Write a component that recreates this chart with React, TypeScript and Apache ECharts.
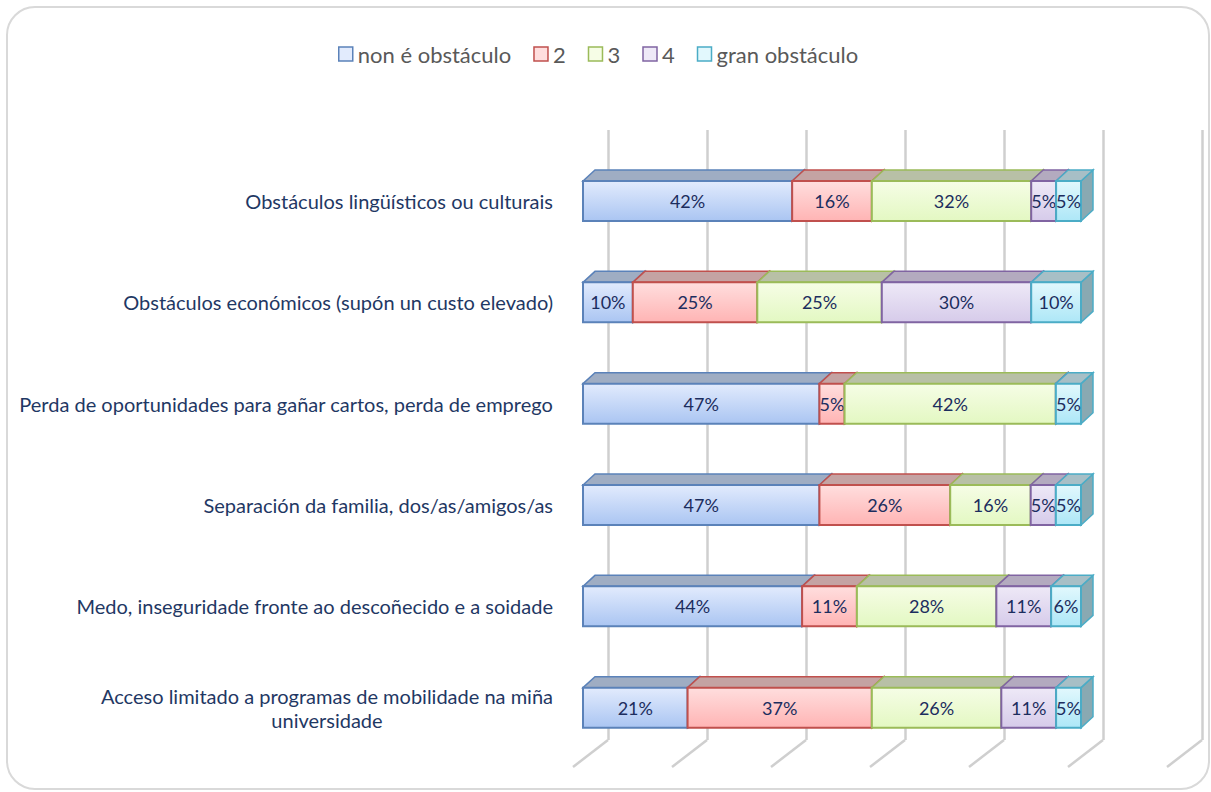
import React, { useEffect, useRef } from 'react';
import * as echarts from 'echarts';

const categories = [
  'Obstáculos lingüísticos ou culturais',
  'Obstáculos económicos (supón un custo elevado)',
  'Perda de oportunidades para gañar cartos, perda de emprego',
  'Separación da familia, dos/as/amigos/as',
  'Medo, inseguridade fronte ao descoñecido e a soidade',
  'Acceso limitado a programas de mobilidade na miña\nuniversidade',
];
const seriesNames = ['non é obstáculo', '2', '3', '4', 'gran obstáculo'];
const nonObstaculo = [42, 10, 47, 47, 44, 21];
const dous = [16, 25, 5, 26, 11, 37];
const tres = [32, 25, 42, 16, 28, 26];
const catro = [5, 30, 0, 5, 11, 11];
const granObstaculo = [5, 10, 5, 5, 6, 5];
const gridTicks = [0, 20, 40, 60, 80, 100, 120];

const palette = [
  { top: '#e2ebfd', bottom: '#aac5f2', border: '#5b82b9', face: '#9fadc3', side: '#8797ad' },
  { top: '#ffdede', bottom: '#ffb4b4', border: '#c0504d', face: '#c4a3a3', side: '#a88a8a' },
  { top: '#f6fde6', bottom: '#e3f8c2', border: '#9bbb59', face: '#b8c0a6', side: '#9ea68c' },
  { top: '#eee9f7', bottom: '#d6cbea', border: '#8064a2', face: '#b3aabf', side: '#978ea3' },
  { top: '#e2f8fd', bottom: '#ade7f7', border: '#4bacc6', face: '#a7bfc6', side: '#89a9b2' },
];

const FONT = 'Lato';
const DX = 12;
const DY = 11;

export default function App() {
  const ref = useRef<HTMLDivElement>(null);
  useEffect(() => {
    if (!ref.current) return;
    const chart = echarts.init(ref.current, null, { renderer: 'svg' });
    const values = [nonObstaculo, dous, tres, catro, granObstaculo];
    const totals = categories.map((_, i) => values.reduce((a, arr) => a + arr[i], 0));
    const cum = categories.map(() => 0);
    const series: any[] = values.map((arr, si) => {
      const data = arr.map((v, ci) => {
        const s = (cum[ci] / totals[ci]) * 100;
        cum[ci] += v;
        const e = (cum[ci] / totals[ci]) * 100;
        return [s, e, ci, v];
      });
      const pal = palette[si];
      return {
        type: 'custom',
        name: seriesNames[si],
        xAxisIndex: 0,
        yAxisIndex: 0,
        z: 5,
        itemStyle: { color: pal.bottom, borderColor: pal.border },
        data,
        renderItem: (params: any, api: any) => {
          const s = api.value(0);
          const e = api.value(1);
          const c = api.value(2);
          const v = api.value(3);
          const p0 = api.coord([s, c]);
          const p1 = api.coord([e, c]);
          const h = api.size([0, 1])[1] * 0.395;
          const x0 = p0[0];
          const x1 = p1[0];
          const y0 = p0[1] - h / 2;
          const y1 = p0[1] + h / 2;
          const children: any[] = [
            {
              type: 'polygon',
              shape: { points: [[x1, y0], [x1 + DX, y0 - DY], [x1 + DX, y1 - DY], [x1, y1]] },
              style: { fill: pal.side, stroke: pal.border, lineWidth: 1.5 },
            },
            {
              type: 'polygon',
              shape: { points: [[x0, y0], [x0 + DX, y0 - DY], [x1 + DX, y0 - DY], [x1, y0]] },
              style: { fill: pal.face, stroke: pal.border, lineWidth: 1.5 },
            },
            {
              type: 'rect',
              shape: { x: x0, y: y0, width: Math.max(0, x1 - x0), height: y1 - y0 },
              style: {
                fill: new echarts.graphic.LinearGradient(0, 0, 0, 1, [
                  { offset: 0, color: pal.top },
                  { offset: 1, color: pal.bottom },
                ]),
                stroke: pal.border,
                lineWidth: 2,
              },
            },
          ];
          if (v > 0) {
            children.push({
              type: 'text',
              style: {
                text: v + '%',
                x: (x0 + x1) / 2,
                y: (y0 + y1) / 2,
                align: 'center',
                verticalAlign: 'middle',
                fill: '#1c2d5e',
                fontSize: 18,
                fontFamily: FONT,
              },
            });
          }
          return { type: 'group', children };
        },
      };
    });

    series.unshift({
      type: 'custom',
      name: 'floor',
      xAxisIndex: 1,
      yAxisIndex: 1,
      z: 1,
      silent: true,
      data: gridTicks.map((t) => [t, 0]),
      renderItem: (params: any, api: any) => {
        const p = api.coord([api.value(0), api.value(1)]);
        return {
          type: 'polyline',
          shape: { points: [[p[0], p[1]], [p[0] - 35, p[1] + 27]] },
          style: { stroke: '#cfcfcf', lineWidth: 2.5, fill: 'none' },
        };
      },
    });

    chart.setOption({
      animation: false,
      backgroundColor: '#ffffff',
      graphic: [
        {
          type: 'rect',
          shape: { x: 7, y: 7, width: 1202, height: 782, r: 28 },
          style: { fill: 'none', stroke: '#d9d9d9', lineWidth: 2 },
          z: 0,
        },
      ],
      legend: {
        top: 38,
        left: 333,
        itemWidth: 14,
        itemHeight: 14,
        itemGap: 22,
        selectedMode: false,
        textStyle: { color: '#595959', fontSize: 22, fontFamily: FONT },
        data: seriesNames.map((n, i) => ({
          name: n,
          icon: 'rect',
          itemStyle: { color: palette[i].top, borderColor: palette[i].border, borderWidth: 1.5 },
        })),
      },
      grid: [
        { left: 583, right: 130, top: 150.35, bottom: 33.65 },
        { left: 608, right: 9, top: 130, bottom: 52 },
      ],
      xAxis: [
        {
          type: 'value',
          gridIndex: 0,
          min: 0,
          max: 100,
          show: false,
        },
        {
          type: 'value',
          gridIndex: 1,
          min: 0,
          max: 120,
          interval: 20,
          axisLine: { show: false },
          axisTick: { show: false },
          axisLabel: { show: false },
          splitLine: { show: true, lineStyle: { color: '#cfcfcf', width: 2.5 } },
        },
      ],
      yAxis: [
        {
          type: 'category',
          gridIndex: 0,
          inverse: true,
          data: categories,
          axisLine: { show: false },
          axisTick: { show: false },
          axisLabel: {
            margin: 30,
            align: 'right',
            formatter: (val: string) =>
              val
                .split('\n')
                .map((l) => '{c|' + l + '}')
                .join('\n'),
            rich: {
              c: { align: 'center', color: '#1f3864', fontSize: 20, fontFamily: FONT, lineHeight: 24 },
            },
          },
        },
        { type: 'value', gridIndex: 1, min: 0, max: 1, show: false },
      ],
      series,
    });
    return () => chart.dispose();
  }, []);
  return (
    <div
      ref={ref}
      style={{ position: 'fixed', left: 0, top: 0, width: 1211, height: 792 }}
    />
  );
}
